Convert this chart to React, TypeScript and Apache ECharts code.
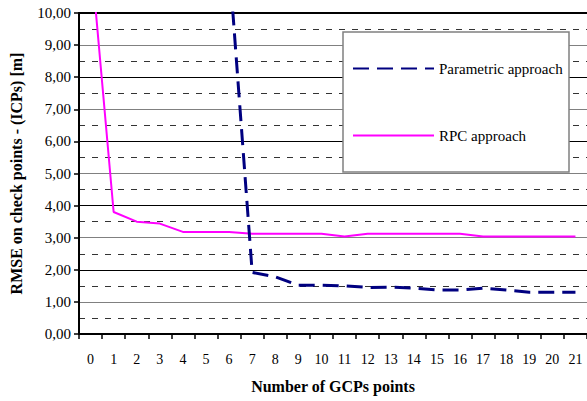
import React, { useEffect, useRef } from "react";
import * as echarts from "echarts";

const categories = ["0","1","2","3","4","5","6","7","8","9","10","11","12","13","14","15","16","17","18","19","20","21"];
const parametric = [null, null, null, null, null, null, 11.6, 1.92, 1.78, 1.52, 1.52, 1.5, 1.45, 1.46, 1.43, 1.37, 1.37, 1.43, 1.37, 1.3, 1.3, 1.3];
const rpc = [11.9, 3.8, 3.5, 3.44, 3.18, 3.18, 3.18, 3.12, 3.12, 3.12, 3.12, 3.04, 3.12, 3.12, 3.12, 3.12, 3.12, 3.04, 3.04, 3.04, 3.04, 3.04];
const seriesNames = ["Parametric approach", "RPC approach"];
const xTitle = "Number of GCPs points";
const yTitle = "RMSE on check points - (ICPs) [m]";

const FONT = "Times New Roman";

export default function App() {
  const ref = useRef<HTMLDivElement>(null);
  useEffect(() => {
    if (!ref.current) return;
    const chart = echarts.init(ref.current, null, { renderer: "svg" });
    chart.setOption({
      animation: false,
      textStyle: { fontFamily: FONT },
      grid: { left: 79, top: 13, bottom: 67, right: -5, containLabel: false },
      graphic: [
        {
          type: "rect",
          z: 10,
          shape: { x: 343, y: 32, width: 226, height: 140 },
          style: { fill: "#fff", stroke: "#808080", lineWidth: 1.5 },
        },
      ],
      legend: {
        orient: "vertical",
        left: 352,
        top: 61,
        padding: 0,
        itemGap: 52,
        itemWidth: 81,
        itemHeight: 14,
        z: 20,
        itemStyle: { opacity: 0 },
        textStyle: { fontFamily: FONT, fontSize: 15, color: "#000" },
        data: seriesNames,
      },
      xAxis: [
        {
          type: "category",
          data: categories,
          boundaryGap: true,
          axisLine: { show: true, lineStyle: { color: "#000", width: 2 } },
          axisTick: { show: true, length: 5, lineStyle: { color: "#000", width: 1.5 } },
          axisLabel: { fontFamily: FONT, fontSize: 14, color: "#000", margin: 18, interval: 0 },
          splitLine: { show: false },
          name: xTitle,
          nameLocation: "middle",
          nameGap: 44,
          nameTextStyle: { fontFamily: FONT, fontSize: 16, fontWeight: "bold", color: "#000" },
        },
        {
          type: "category",
          data: categories,
          position: "top",
          axisLine: { show: true, lineStyle: { color: "#000", width: 2 } },
          axisTick: { show: false },
          axisLabel: { show: false },
          splitLine: { show: false },
        },
      ],
      yAxis: {
        type: "value",
        min: 0,
        max: 10,
        interval: 1,
        axisLine: { show: true, lineStyle: { color: "#000", width: 2 } },
        axisTick: { show: true, length: 5, lineStyle: { color: "#000", width: 1.5 } },
        axisLabel: {
          fontFamily: FONT,
          fontSize: 15,
          color: "#000",
          margin: 8,
          formatter: (v: number) => v.toFixed(2).replace(".", ","),
        },
        splitLine: { show: true, lineStyle: { color: ["#000", "#808080"], width: 1.2 } },
        minorTick: { show: false, splitNumber: 2 },
        minorSplitLine: { show: true, lineStyle: { color: "#333", width: 1, type: [6, 7] } },
        name: yTitle,
        nameLocation: "middle",
        nameGap: 55,
        nameRotate: 90,
        nameTextStyle: { fontFamily: FONT, fontSize: 16, fontWeight: "bold", color: "#000" },
      },
      series: [
        {
          name: seriesNames[0],
          type: "line",
          data: parametric,
          symbol: "none",
          connectNulls: false,
          lineStyle: { color: "#000080", width: 3, type: [16, 8] },
          itemStyle: { color: "#000080" },
          z: 3,
        },
        {
          name: seriesNames[1],
          type: "line",
          data: rpc,
          symbol: "none",
          lineStyle: { color: "#FF00FF", width: 2, type: "solid" },
          itemStyle: { color: "#FF00FF" },
          z: 2,
        },
      ],
    });
    return () => chart.dispose();
  }, []);
  return (
    <>
      <style>{`.serif-chart svg text { font-family: "Liberation Serif", "Times New Roman", serif !important; }`}</style>
      <div className="serif-chart" ref={ref} style={{ width: 587, height: 401, position: "absolute", left: 0, top: 0 }} />
    </>
  );
}
